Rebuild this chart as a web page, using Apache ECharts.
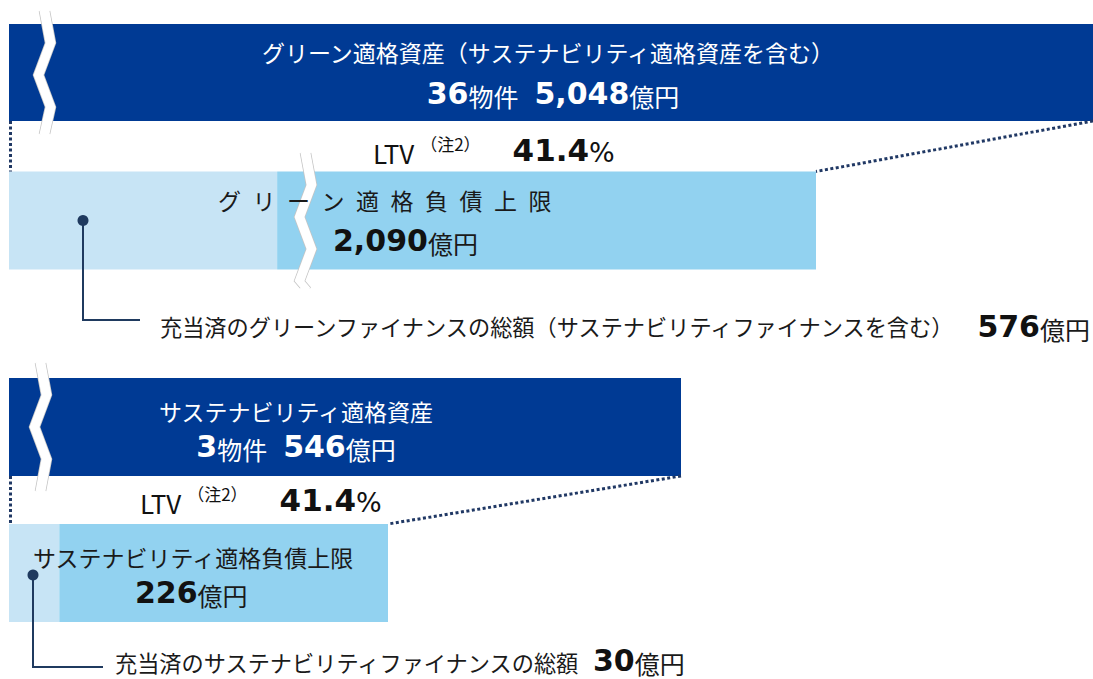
<!DOCTYPE html>
<html>
<head>
<meta charset="utf-8">
<title>グリーン適格資産</title>
<script src="https://cdn.jsdelivr.net/npm/echarts@6/dist/echarts.min.js"></script>
<style>
  html, body { margin: 0; padding: 0; background: #fff; }
  #main { width: 1093px; height: 679px; }
</style>
</head>
<body>
<div id="main"></div>
<script>
// ---- data (億円) ----
const assetTitles = ['グリーン適格資産（サステナビリティ適格資産を含む）', 'サステナビリティ適格資産'];
const assetCounts = [36, 3];
const assetValues = [5048, 546];
const ltvValues = [41.4, 41.4];
const debtTitles = ['グリーン適格負債上限', 'サステナビリティ適格負債上限'];
const debtLimits = [2090, 226];
const allocatedTitles = ['充当済のグリーンファイナンスの総額（サステナビリティファイナンスを含む）', '充当済のサステナビリティファイナンスの総額'];
const allocatedValues = [576, 30];

// ---- style ----
const DARK = '#003a94';
const LIGHT = '#c7e4f5';
const MID = '#92d2f0';
const NAVY = '#1f3a5f';
const JP = '"Noto Sans CJK JP", "Noto Sans", sans-serif';
const NUM = '"DejaVu Sans", Verdana, sans-serif';

// 4 rows: 資産(green), 負債上限(green), 資産(sust.), 負債上限(sust.)
const grids = [
    { left: 9, top: 11, width: 1084, height: 123 },
    { left: 9, top: 153, width: 807, height: 135 },
    { left: 9, top: 363, width: 672, height: 128 },
    { left: 9, top: 524, width: 379, height: 98 }
];
const barW = [97, 98, 98, 98];
const xMax = [assetValues[0], debtLimits[0], assetValues[1], debtLimits[1]];
// broken axes (the picture is not to scale)
const axisBreaks = [
    [{ start: 100, end: 1568, gap: '0.92%' }],
    [{ start: 625, end: 1003, gap: '1.24%' }],
    [{ start: 10, end: 301, gap: '1.49%' }],
    []
];

const fmt = v => v.toLocaleString('en-US');

const chart = echarts.init(document.getElementById('main'), null, { renderer: 'svg' });

const option = {
    animation: false,
    backgroundColor: '#fff',
    grid: grids.map(g => Object.assign({ outerBoundsMode: 'none', containLabel: false }, g)),
    xAxis: grids.map((g, i) => ({
        type: 'value',
        gridIndex: i,
        min: 0,
        max: xMax[i],
        axisLine: { show: false },
        axisTick: { show: false },
        axisLabel: { show: false },
        splitLine: { show: false },
        breaks: axisBreaks[i],
        breakArea: {
            show: true,
            itemStyle: { color: '#fff', borderColor: '#c4c4c4', borderWidth: 1.5, borderType: 'solid', opacity: 1 },
            zigzagAmplitude: 6,
            zigzagMinSpan: 32,
            zigzagMaxSpan: 32,
            zigzagZ: 100,
            expandOnClick: false
        }
    })),
    yAxis: grids.map((g, i) => ({
        type: 'category',
        gridIndex: i,
        data: [''],
        show: false
    })),
    series: [
        { type: 'bar', xAxisIndex: 0, yAxisIndex: 0, barWidth: barW[0], data: [assetValues[0]], itemStyle: { color: DARK } },
        { type: 'bar', xAxisIndex: 1, yAxisIndex: 1, barWidth: barW[1], stack: 'g', data: [allocatedValues[0]], itemStyle: { color: LIGHT } },
        { type: 'bar', xAxisIndex: 1, yAxisIndex: 1, barWidth: barW[1], stack: 'g', data: [debtLimits[0] - allocatedValues[0]], itemStyle: { color: MID } },
        { type: 'bar', xAxisIndex: 2, yAxisIndex: 2, barWidth: barW[2], data: [assetValues[1]], itemStyle: { color: DARK } },
        { type: 'bar', xAxisIndex: 3, yAxisIndex: 3, barWidth: barW[3], stack: 's', data: [allocatedValues[1]], itemStyle: { color: LIGHT } },
        { type: 'bar', xAxisIndex: 3, yAxisIndex: 3, barWidth: barW[3], stack: 's', data: [debtLimits[1] - allocatedValues[1]], itemStyle: { color: MID } }
    ]
};
chart.setOption(option);

// rich text pieces
function rs(size, color, bold, family, extra) {
    return Object.assign({ fontSize: size, fill: color, fontWeight: bold ? 'bold' : 'normal', fontFamily: family, verticalAlign: 'bottom' }, extra || {});
}
function txt(x, y, text, rich, align) {
    align = align || 'left';
    return {
        type: 'text', x: x, y: y, z: 300,
        style: { text: text, rich: rich, align: align, textAlign: align, verticalAlign: 'middle', textVerticalAlign: 'middle' }
    };
}
const whiteRich = {
    t: rs(23, '#fff', false, JP),
    n: rs(30, '#fff', true, NUM),
    n2: rs(30, '#fff', true, NUM, { padding: [0, 0, 0, 16] }),
    u: rs(25, '#fff', false, JP)
};
const blackRich = {
    t: rs(23, '#1a1a1a', false, JP),
    c: rs(22.2, '#1a1a1a', false, JP),
    n: rs(30, '#111', true, NUM),
    u: rs(25, '#1a1a1a', false, JP),
    l: rs(26, '#111', false, JP),
    note: rs(17, '#111', false, JP, { verticalAlign: 'top', padding: [0, 0, 0, 6] }),
    ln: rs(31, '#111', true, NUM, { padding: [0, 0, 0, 32] }),
    p: rs(27, '#111', false, NUM)
};
const ltvText = v => '{l|LTV}{note|（注2）}{ln|' + v.toFixed(1) + '}{p|%}';
const amount = v => '{n|' + fmt(v) + '}{u|億円}';

const px = (i, v) => chart.convertToPixel({ xAxisIndex: i, yAxisIndex: i }, [v, 0]);

function buildGraphic() {
    const els = [];
    // dotted connectors between asset bar and liability bar
    [[0, 1], [2, 3]].forEach(function (pair, k) {
        const a0 = px(pair[0], 0), a1 = px(pair[0], assetValues[k]);
        const b0 = px(pair[1], 0), b1 = px(pair[1], debtLimits[k]);
        const aBottom = a0[1] + barW[pair[0]] / 2;
        const bTop = b0[1] - barW[pair[1]] / 2;
        const dot = { stroke: '#203864', lineWidth: 3, lineDash: [3, 2.5] };
        els.push({ type: 'line', z: 300, shape: { x1: a0[0] + 1.5, y1: aBottom, x2: b0[0] + 1.5, y2: bTop }, style: dot });
        els.push({ type: 'line', z: 300, shape: { x1: a1[0], y1: aBottom, x2: b1[0], y2: bTop }, style: dot });
    });
    // callouts from allocated part
    const c0 = px(1, 0), c1 = px(3, 0);
    const callouts = [
        { x: c0[0] + 74, y: c0[1], yEnd: 320, xEnd: 140 },
        { x: c1[0] + 24, y: c1[1] + 2, yEnd: 667, xEnd: 103 }
    ];
    callouts.forEach(function (c) {
        els.push({ type: 'polyline', z: 300, shape: { points: [[c.x, c.y], [c.x, c.yEnd], [c.xEnd, c.yEnd]] }, style: { stroke: NAVY, lineWidth: 2, fill: null } });
        els.push({ type: 'circle', z: 301, shape: { cx: c.x, cy: c.y, r: 5.5 }, style: { fill: NAVY } });
    });

    // asset bars
    els.push(txt(548, 52, '{t|' + assetTitles[0] + '}', whiteRich, 'center'));
    els.push(txt(553, 93, '{n|' + assetCounts[0] + '}{u|物件}{n2|' + fmt(assetValues[0]) + '}{u|億円}', whiteRich, 'center'));
    els.push(txt(296, 411, '{t|' + assetTitles[1] + '}', whiteRich, 'center'));
    els.push(txt(296, 446, '{n|' + assetCounts[1] + '}{u|物件}{n2|' + fmt(assetValues[1]) + '}{u|億円}', whiteRich, 'center'));

    // LTV
    els.push(txt(373, 150, ltvText(ltvValues[0]), blackRich));
    els.push(txt(140, 500, ltvText(ltvValues[1]), blackRich));

    // liability limit bars
    els.push(txt(218, 200, '{t|' + Array.from(debtTitles[0]).join('\u2002') + '}', blackRich));
    els.push(txt(333, 240, amount(debtLimits[0]), blackRich));
    els.push(txt(33, 557, '{t|' + debtTitles[1] + '}', blackRich));
    els.push(txt(135, 592, amount(debtLimits[1]), blackRich));

    // allocated totals
    els.push(txt(160, 326, '{c|' + allocatedTitles[0] + '}', blackRich));
    els.push(txt(1090, 326, amount(allocatedValues[0]), blackRich, 'right'));
    els.push(txt(115, 662, '{c|' + allocatedTitles[1] + '}', blackRich));
    els.push(txt(593, 660, amount(allocatedValues[1]), blackRich));
    return els;
}

chart.setOption({ graphic: { elements: buildGraphic() } });
</script>
</body>
</html>
